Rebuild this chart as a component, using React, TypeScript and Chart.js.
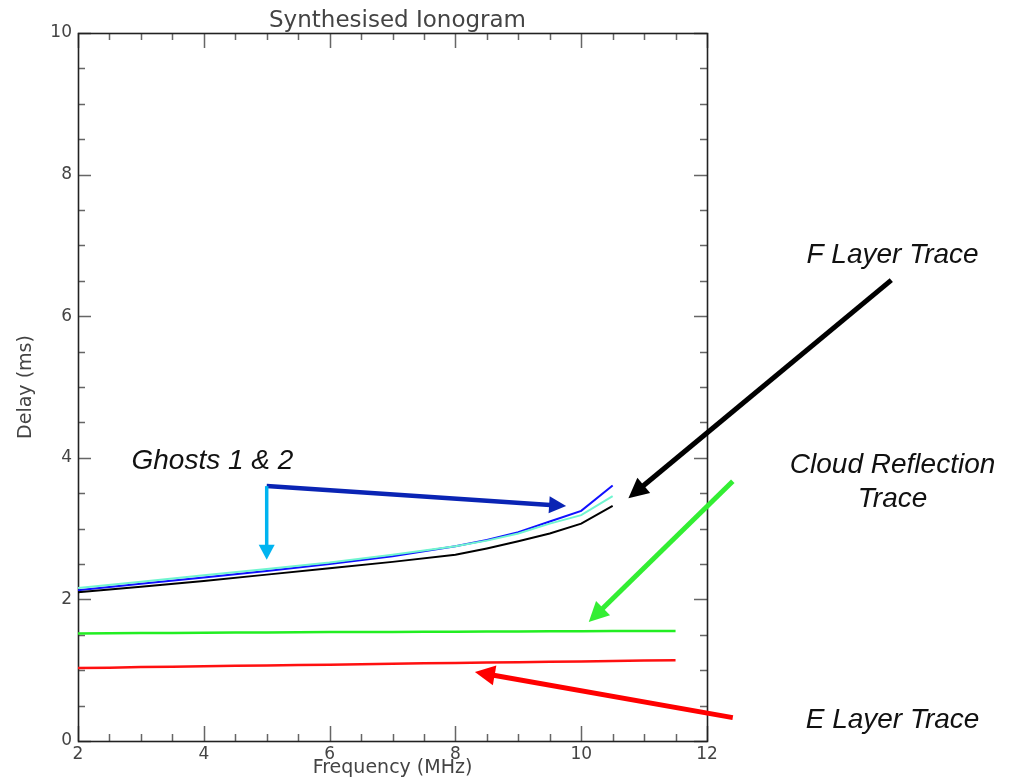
import { useEffect, useRef } from 'react';
import { Chart, registerables } from 'chart.js';

Chart.register(...registerables);

// Sounding frequencies (MHz) for the F-layer trace and its ghosts
const fFrequencies = [2, 3, 4, 5, 6, 7, 8, 8.5, 9, 9.5, 10, 10.5];
// Group delay (ms)
const fLayerDelay = [2.1, 2.18, 2.26, 2.35, 2.44, 2.53, 2.63, 2.72, 2.82, 2.93, 3.07, 3.32];
const ghost1Delay = [2.16, 2.25, 2.34, 2.43, 2.52, 2.63, 2.75, 2.83, 2.93, 3.07, 3.19, 3.46];
const ghost2Delay = [2.13, 2.22, 2.31, 2.4, 2.5, 2.61, 2.75, 2.84, 2.95, 3.1, 3.25, 3.61];

// Sounding frequencies (MHz) for the low traces
const lowFrequencies = [2, 2.5, 3, 3.5, 4, 4.5, 5, 5.5, 6, 6.5, 7, 7.5, 8, 8.5, 9, 9.5, 10, 10.5, 11, 11.5];
const cloudDelay = [1.52, 1.522, 1.525, 1.527, 1.53, 1.532, 1.534, 1.536, 1.538, 1.54, 1.541, 1.543, 1.544, 1.546, 1.547, 1.549, 1.551, 1.552, 1.554, 1.555];
const eLayerDelay = [1.03, 1.035, 1.045, 1.05, 1.056, 1.062, 1.068, 1.073, 1.078, 1.085, 1.09, 1.097, 1.102, 1.107, 1.113, 1.118, 1.124, 1.13, 1.136, 1.14];

// Axis ranges and tick spacing
const xRange = [2, 12];
const yRange = [0, 10];
const majorStep = 2;
const minorStep = 0.5;

// Callout arrows, in axis units
const callouts = [
  { from: [5, 3.6], to: [9.76, 3.32], color: '#0a24b4', width: 4.5, head: 17, half: 8.5 },
  { from: [5, 3.6], to: [5, 2.56], color: '#00b4f0', width: 3.5, head: 15, half: 8 },
  { from: [14.93, 6.51], to: [10.75, 3.43], color: '#000000', width: 5, head: 20, half: 10 },
  { from: [12.41, 3.67], to: [10.12, 1.68], color: '#33ee33', width: 5, head: 20, half: 10 },
  { from: [12.41, 0.33], to: [8.31, 0.975], color: '#ff0000', width: 5, head: 20, half: 10 },
];

const calloutLabels = [
  { text: 'Ghosts 1 & 2', x: 2.85, y: 3.84, align: 'left' },
  { text: 'F Layer Trace', x: 14.95, y: 6.75, align: 'center' },
  { text: 'Cloud Reflection', x: 14.95, y: 3.78, align: 'center' },
  { text: 'Trace', x: 14.95, y: 3.3, align: 'center' },
  { text: 'E Layer Trace', x: 14.95, y: 0.184, align: 'center' },
];

const chartTitle = 'Synthesised Ionogram';
const axisFont = 'DejaVu Sans';
const axisColor = '#444444';

function points(xs: number[], ys: number[]) {
  return xs.map((x, i) => ({ x, y: ys[i] }));
}

function drawArrow(ctx: CanvasRenderingContext2D, x0: number, y0: number, x1: number, y1: number,
  color: string, width: number, head: number, half: number) {
  const ang = Math.atan2(y1 - y0, x1 - x0);
  const c = Math.cos(ang);
  const s = Math.sin(ang);
  const bx = x1 - head * c;
  const by = y1 - head * s;
  ctx.save();
  ctx.strokeStyle = color;
  ctx.fillStyle = color;
  ctx.lineWidth = width;
  ctx.lineCap = 'butt';
  ctx.beginPath();
  ctx.moveTo(x0, y0);
  ctx.lineTo(bx + c, by + s);
  ctx.stroke();
  ctx.beginPath();
  ctx.moveTo(x1, y1);
  ctx.lineTo(bx - half * s, by + half * c);
  ctx.lineTo(bx + half * s, by - half * c);
  ctx.closePath();
  ctx.fill();
  ctx.restore();
}

const framePlugin = {
  id: 'ionogramFrame',
  beforeDatasetsDraw(chart: any) {
    const { ctx, chartArea: a, scales } = chart;
    const xs = scales.x;
    const ys = scales.y;
    ctx.save();
    // inward ticks on all four sides
    ctx.strokeStyle = '#666666';
    ctx.lineWidth = 1.5;
    ctx.beginPath();
    for (let v = xRange[0]; v <= xRange[1] + 1e-9; v += minorStep) {
      const px = Math.round(xs.getPixelForValue(v)) + 0.5;
      const major = Math.abs(v / majorStep - Math.round(v / majorStep)) < 1e-9;
      const len = major ? 15 : 7;
      ctx.moveTo(px, a.bottom);
      ctx.lineTo(px, a.bottom - len);
      ctx.moveTo(px, a.top);
      ctx.lineTo(px, a.top + len);
    }
    for (let v = yRange[0]; v <= yRange[1] + 1e-9; v += minorStep) {
      const py = Math.round(ys.getPixelForValue(v)) + 0.5;
      const major = Math.abs(v / majorStep - Math.round(v / majorStep)) < 1e-9;
      const len = major ? 13 : 7;
      ctx.moveTo(a.left, py);
      ctx.lineTo(a.left + len, py);
      ctx.moveTo(a.right, py);
      ctx.lineTo(a.right - len, py);
    }
    ctx.stroke();
    // plot frame
    ctx.strokeStyle = '#222222';
    ctx.lineWidth = 1.6;
    ctx.strokeRect(Math.round(a.left) + 0.5, Math.round(a.top) + 0.5,
      Math.round(a.right - a.left), Math.round(a.bottom - a.top));
    // title
    ctx.fillStyle = axisColor;
    ctx.font = `23px "${axisFont}"`;
    ctx.textAlign = 'center';
    ctx.textBaseline = 'alphabetic';
    ctx.fillText(chartTitle, (a.left + a.right) / 2 + 5, 26.5);
    ctx.restore();
  },
  afterDatasetsDraw(chart: any) {
    const { ctx, scales } = chart;
    const xs = scales.x;
    const ys = scales.y;
    callouts.forEach((c) => {
      drawArrow(ctx,
        xs.getPixelForValue(c.from[0]), ys.getPixelForValue(c.from[1]),
        xs.getPixelForValue(c.to[0]), ys.getPixelForValue(c.to[1]),
        c.color, c.width, c.head, c.half);
    });
    ctx.save();
    ctx.fillStyle = '#111111';
    ctx.font = 'italic 28px "Liberation Sans"';
    ctx.textBaseline = 'alphabetic';
    calloutLabels.forEach((l) => {
      ctx.textAlign = l.align as CanvasTextAlign;
      ctx.fillText(l.text, xs.getPixelForValue(l.x), ys.getPixelForValue(l.y));
    });
    ctx.restore();
  },
};

export default function App() {
  const canvasRef = useRef<HTMLCanvasElement | null>(null);

  useEffect(() => {
    const canvas = canvasRef.current;
    if (!canvas) return;
    const lineStyle = { pointRadius: 0, borderWidth: 2, tension: 0, fill: false };
    const chart = new Chart(canvas, {
      type: 'line',
      data: {
        datasets: [
          { label: 'Ghost 1', data: points(fFrequencies, ghost1Delay), borderColor: '#70f5d0', ...lineStyle, order: 1 },
          { label: 'Ghost 2', data: points(fFrequencies, ghost2Delay), borderColor: '#1010ff', ...lineStyle, order: 2 },
          { label: 'F Layer', data: points(fFrequencies, fLayerDelay), borderColor: '#000000', ...lineStyle, order: 0 },
          { label: 'Cloud Reflection', data: points(lowFrequencies, cloudDelay), borderColor: '#22ee22', ...lineStyle, borderWidth: 2.5, order: 3 },
          { label: 'E Layer', data: points(lowFrequencies, eLayerDelay), borderColor: '#ff1010', ...lineStyle, borderWidth: 2.5, order: 4 },
        ],
      },
      options: {
        responsive: false,
        animation: false,
        devicePixelRatio: 1,
        layout: { padding: { top: 33, right: 314, bottom: 0, left: 0 } },
        plugins: {
          legend: { display: false },
          tooltip: { enabled: false },
          title: { display: false },
        },
        scales: {
          x: {
            type: 'linear',
            min: xRange[0],
            max: xRange[1],
            grid: { display: false, drawTicks: false },
            border: { display: false },
            ticks: {
              stepSize: majorStep,
              padding: 3,
              maxRotation: 0,
              autoSkip: false,
              color: axisColor,
              font: { family: axisFont, size: 17 },
            },
            title: {
              display: true,
              text: 'Frequency (MHz)',
              color: axisColor,
              font: { family: axisFont, size: 19 },
              padding: { top: 0, bottom: 3 },
            },
            afterFit(scale: any) { scale.height = 41; },
          },
          y: {
            type: 'linear',
            min: yRange[0],
            max: yRange[1],
            grid: { display: false, drawTicks: false },
            border: { display: false },
            ticks: {
              stepSize: majorStep,
              padding: 6,
              color: axisColor,
              font: { family: axisFont, size: 17 },
            },
            title: {
              display: true,
              text: 'Delay (ms)',
              color: axisColor,
              font: { family: axisFont, size: 19 },
              padding: { top: 15, bottom: 0 },
            },
            afterFit(scale: any) { scale.width = 78; },
          },
        },
      } as any,
      plugins: [framePlugin],
    });
    return () => chart.destroy();
  }, []);

  return (
    <div style={{ position: 'absolute', left: 0, top: 0, width: 1021, height: 782, background: '#ffffff' }}>
      <canvas ref={canvasRef} width={1021} height={782} style={{ display: 'block' }} />
    </div>
  );
}
